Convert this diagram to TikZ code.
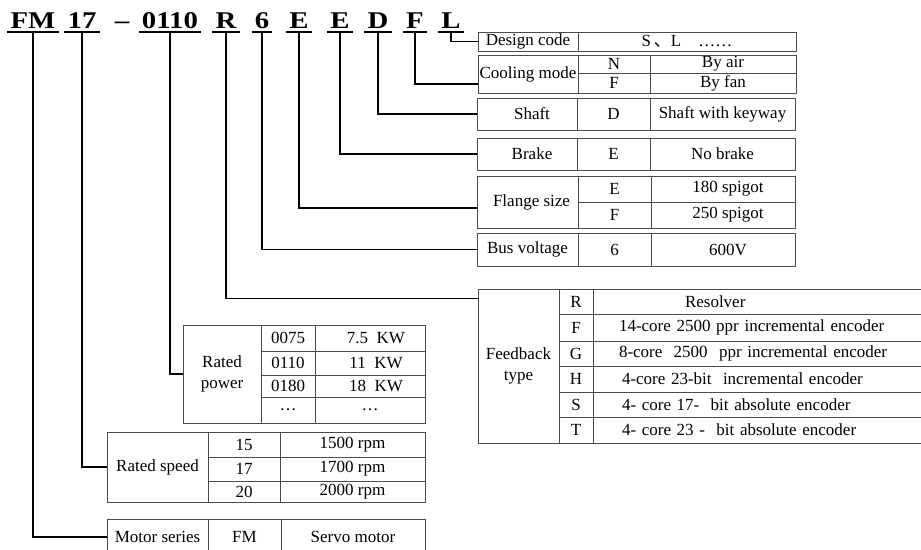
\documentclass[tikz,border=0pt]{standalone}
\usepackage{fontspec}
\setmainfont{Liberation Serif}
\newfontfamily\codefont{Liberation Serif}[FakeStretch=1.2]
\newfontfamily\cjk{Noto Sans CJK SC}
\usetikzlibrary{calc}
% cell: [options]{name}{x1}{y1}{x2}{y2}{text}
\newcommand*{\cell}[7][]{\node [cellbox, #1, minimum width={(#5)-(#3)}, minimum height={(#6)-(#4)}] (#2) at ({((#3)+(#5))/2},{((#4)+(#6))/2}) {#7};}

\begin{document}
\begin{tikzpicture}[x=1pt, y=-1pt, font=\fontsize{17}{21}\selectfont,
    cellbox/.style={draw=black!70, line width=0.7pt, inner sep=0pt, align=center},
    code/.style={font=\codefont\bfseries\fontsize{24}{24}\selectfont, anchor=base, inner xsep=3pt, inner ysep=4pt, text depth=0pt},
    uline/.style={line width=1.6pt},
    link/.style={line width=1.3pt}]
    \useasboundingbox (0,0) rectangle (921,549);
    \clip (0,0) rectangle (921,549);
    % type code
    \node [code] (cFM)   at ( 33,28) {FM};
    \node [code] (c17)   at ( 82,28) {17};
    \node [code, inner xsep=0pt] (cdash) at (122,28) {\textendash};
    \node [code] (c0110) at (170,28) {0110};
    \node [code] (cR)    at (226,28) {R};
    \node [code] (c6)    at (262,28) {6};
    \node [code] (cE1)   at (299,28) {E};
    \node [code] (cE2)   at (340,28) {E};
    \node [code] (cD)    at (378,28) {D};
    \node [code] (cF)    at (415,28) {F};
    \node [code] (cL)    at (451,28) {L};
    \draw [uline] (cFM.south west)   -- (cFM.south east);
    \draw [uline] (c17.south west)   -- (c17.south east);
    \draw [uline] (c0110.south west) -- (c0110.south east);
    \draw [uline] (cR.south west)    -- (cR.south east);
    \draw [uline] (c6.south west)    -- (c6.south east);
    \draw [uline] (cE1.south west)   -- (cE1.south east);
    \draw [uline] (cE2.south west)   -- (cE2.south east);
    \draw [uline] (cD.south west)    -- (cD.south east);
    \draw [uline] (cF.south west)    -- (cF.south east);
    \draw [uline] (cL.south west)    -- (cL.south east);
    % design code
    \cell{dc}{478}{32}{578}{51}{Design code}
    \cell{dcv}{578}{32}{796}{51}{S\,{\cjk 、}L\quad ……}
    % cooling mode
    \cell{cm}{478}{55}{578}{93}{Cooling mode}
    \cell{cmN}{578}{55}{650}{73}{N}
    \cell{cmNv}{650}{55}{796}{73}{By air}
    \cell{cmF}{578}{73}{650}{93}{F}
    \cell{cmFv}{650}{73}{796}{93}{By fan}
    % shaft
    \cell{sh}{477}{98}{577}{130}{\hspace*{10pt}Shaft}
    \cell{shD}{577}{98}{650}{130}{D}
    \cell{shv}{650}{98}{795}{130}{Shaft with keyway}
    % brake
    \cell{br}{477}{138}{577}{170}{\hspace*{10pt}Brake}
    \cell{brE}{577}{138}{650}{170}{E}
    \cell{brv}{650}{138}{795}{170}{No brake}
    % flange size
    \cell{fl}{477}{176}{578}{228}{\hspace*{8pt}Flange size}
    \cell{flE}{578}{176}{651}{202}{E}
    \cell{flEv}{651}{176}{795}{202}{\hspace*{10pt}180 spigot}
    \cell{flF}{578}{202}{651}{228}{F}
    \cell{flFv}{651}{202}{795}{228}{\hspace*{10pt}250\ spigot}
    % bus voltage
    \cell{bv}{477}{233}{578}{266}{Bus voltage}
    \cell{bv6}{578}{233}{651}{266}{6}
    \cell{bvv}{651}{233}{795}{266}{\hspace*{10pt}600V}
    % feedback type
    \cell{fb}{478}{289}{559}{443}{Feedback\\type}
    \cell{fbR}{559}{289}{593}{314}{R}
    \cell{fbF}{559}{314}{593}{341}{F}
    \cell{fbG}{559}{341}{593}{366}{G}
    \cell{fbH}{559}{366}{593}{392}{H}
    \cell{fbS}{559}{392}{593}{417}{S}
    \cell{fbT}{559}{417}{593}{443}{T}
    \cell[text width=280pt, align=left]{fbRv}{593}{289}{925}{314}{\hspace*{66pt}Resolver}
    \cell[text width=280pt, align=left]{fbFv}{593}{314}{925}{341}{14-core 2500 ppr incremental encoder}
    \cell[text width=280pt, align=left]{fbGv}{593}{341}{925}{366}{8-core\ \ 2500\ \ ppr incremental encoder}
    \cell[text width=280pt, align=left]{fbHv}{593}{366}{925}{392}{\hspace*{3pt}4-core 23-bit\ \ incremental encoder}
    \cell[text width=280pt, align=left]{fbSv}{593}{392}{925}{417}{\hspace*{3pt}4- core 17-\ \ bit absolute encoder}
    \cell[text width=280pt, align=left]{fbTv}{593}{417}{925}{443}{\hspace*{3pt}4- core 23 -\ \ bit absolute encoder}
    % rated power
    \cell{rp}{183}{325}{261}{423}{Rated\\power}
    \cell{rp1}{261}{325}{315}{351}{0075}
    \cell{rp1v}{315}{325}{425}{351}{\hspace*{12pt}7.5\ \ KW}
    \cell{rp2}{261}{351}{315}{375}{0110}
    \cell{rp2v}{315}{351}{425}{375}{\hspace*{12pt}11\ \ KW}
    \cell{rp3}{261}{375}{315}{397}{0180}
    \cell{rp3v}{315}{375}{425}{397}{\hspace*{12pt}18\ \ KW}
    \cell{rp4}{261}{397}{315}{423}{\dots}
    \cell{rp4v}{315}{397}{425}{423}{\dots}
    % rated speed
    \cell{rs}{107}{432}{208}{502}{Rated speed}
    \cell{rs1}{208}{432}{280}{457}{15}
    \cell{rs1v}{280}{432}{425}{457}{1500 rpm}
    \cell{rs2}{208}{457}{280}{481}{17}
    \cell{rs2v}{280}{457}{425}{481}{1700 rpm}
    \cell{rs3}{208}{481}{280}{502}{20}
    \cell{rs3v}{280}{481}{425}{502}{2000 rpm}
    % motor series
    \cell{ms}{107}{519}{208}{555}{Motor series}
    \cell{msFM}{208}{519}{281}{555}{FM}
    \cell{msv}{281}{519}{425}{555}{Servo motor}
    % leaders
    \draw [link] (cL.south)    |- (dc.west);
    \draw [link] (cF.south)    |- ([yshift=-10pt]cm.west);
    \draw [link] (cD.south)    |- (sh.west);
    \draw [link] (cE2.south)   |- (br.west);
    \draw [link] (cE1.south)   |- ([yshift=-6pt]fl.west);
    \draw [link] (c6.south)    |- (bv.west);
    \draw [link] (cR.south)    |- ([yshift=-10pt]fb.north west);
    \draw [link] (c0110.south) |- (rp.west);
    \draw [link] (c17.south)   |- (rs.west);
    \draw [link] (cFM.south)   |- (ms.west);
\end{tikzpicture}
\end{document}
